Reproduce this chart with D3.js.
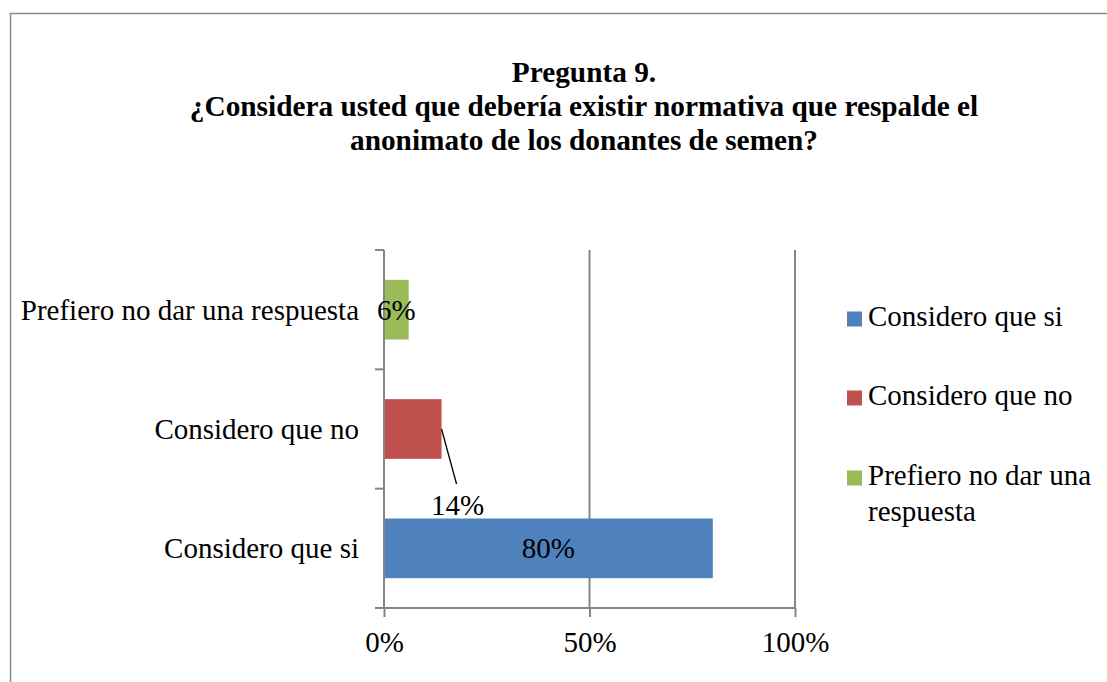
<!DOCTYPE html>
<html>
<head>
<meta charset="utf-8">
<script src="https://cdn.jsdelivr.net/npm/d3@7"></script>
<style>
  body { margin: 0; background: #fff; }
</style>
</head>
<body>
<div id="chart"></div>
<script>
// data
var categories = ["Prefiero no dar una respuesta", "Considero que no", "Considero que si"];
var values = [0.06, 0.14, 0.80];
var colors = ["#9BBB59", "#C0504D", "#4F81BD"];
var xTicks = [0, 0.5, 1];
var legendNames = ["Considero que si", "Considero que no", "Prefiero no dar una respuesta"];
var legendColors = ["#4F81BD", "#C0504D", "#9BBB59"];
var titleLines = ["Pregunta 9.", "¿Considera usted que debería existir normativa que respalde el", "anonimato de los donantes de semen?"];

var width = 1107, height = 682;
var grey = "#868686";
var fs = "29px";
var ff = "'Liberation Serif', 'Times New Roman', serif";

var svg = d3.select("#chart").append("svg")
    .attr("width", width)
    .attr("height", height);

// outer frame
svg.append("rect")
    .attr("x", 10.5).attr("y", 13.5)
    .attr("width", 1200).attr("height", 700)
    .attr("fill", "none")
    .attr("stroke", "#8c8c8c")
    .attr("stroke-width", 1.5);

// title
svg.append("g").selectAll("text")
    .data(titleLines)
    .enter().append("text")
    .attr("x", 584)
    .attr("y", function (d, i) { return 82 + i * 34; })
    .attr("text-anchor", "middle")
    .style("font-family", ff)
    .style("font-size", "29.3px")
    .style("font-weight", "bold")
    .text(function (d) { return d; });

// scales
var x = d3.scaleLinear().domain([0, 1]).range([384, 795]);
var y = d3.scaleBand().domain(categories).range([250, 608]).paddingInner(0.5).paddingOuter(0.25);

// gridlines
svg.append("g").selectAll("line")
    .data(xTicks.slice(1))
    .enter().append("line")
    .attr("x1", function (d) { return x(d); })
    .attr("x2", function (d) { return x(d); })
    .attr("y1", 250).attr("y2", 608)
    .attr("stroke", grey).attr("stroke-width", 2);

// bars
svg.append("g").selectAll("rect")
    .data(values)
    .enter().append("rect")
    .attr("x", x(0))
    .attr("y", function (d, i) { return y(categories[i]); })
    .attr("width", function (d) { return x(d) - x(0); })
    .attr("height", y.bandwidth())
    .attr("fill", function (d, i) { return colors[i]; });

// y axis with ticks at band edges
var yAxis = svg.append("g");
yAxis.append("line")
    .attr("x1", x(0)).attr("x2", x(0))
    .attr("y1", 250).attr("y2", 608)
    .attr("stroke", grey).attr("stroke-width", 2);
var edges = d3.range(categories.length + 1).map(function (i) { return 250 + i * y.step(); });
yAxis.selectAll(".tk")
    .data(edges)
    .enter().append("line")
    .attr("x1", x(0) - 9).attr("x2", x(0))
    .attr("y1", function (d) { return d; })
    .attr("y2", function (d) { return d; })
    .attr("stroke", grey).attr("stroke-width", 2);
yAxis.selectAll("text")
    .data(categories)
    .enter().append("text")
    .attr("x", 359)
    .attr("y", function (d) { return y(d) + y.bandwidth() / 2 + 10; })
    .attr("text-anchor", "end")
    .style("font-family", ff)
    .style("font-size", fs)
    .text(function (d) { return d; });

// x axis
var xAxis = svg.append("g")
    .attr("transform", "translate(0,608)")
    .call(d3.axisBottom(x).tickValues(xTicks).tickSize(9).tickSizeOuter(0)
        .tickFormat(d3.format(".0%")));
xAxis.select(".domain")
    .attr("d", "M" + (x(0) - 9) + ",0H" + x(1))
    .attr("stroke", grey).attr("stroke-width", 2);
xAxis.selectAll(".tick line").attr("stroke", grey).attr("stroke-width", 2);
xAxis.selectAll(".tick text")
    .attr("y", 44).attr("dy", null)
    .attr("fill", "#000")
    .style("font-size", fs)
    .style("font-family", ff);

// data labels
var fmt = d3.format(".0%");
var labels = svg.append("g");
values.forEach(function (v, i) {
    var cy = y(categories[i]) + y.bandwidth() / 2;
    if (i === 1) {
        // callout label below the small red bar
        labels.append("line")
            .attr("x1", x(v)).attr("y1", cy)
            .attr("x2", x(v) + 15).attr("y2", cy + 55)
            .attr("stroke", "#000").attr("stroke-width", 1.3);
        labels.append("text")
            .attr("x", x(v) + 16).attr("y", cy + 86)
            .attr("text-anchor", "middle")
            .style("font-family", ff)
            .style("font-size", fs)
            .text(fmt(v));
    } else {
        labels.append("text")
            .attr("x", (x(0) + x(v)) / 2).attr("y", cy + 10)
            .attr("text-anchor", "middle")
            .style("font-family", ff)
            .style("font-size", fs)
            .text(fmt(v));
    }
});

// legend
var legY = [319, 398, 478];
var leg = svg.append("g").selectAll("g")
    .data(legendNames)
    .enter().append("g")
    .attr("transform", function (d, i) { return "translate(847," + legY[i] + ")"; });
leg.append("rect")
    .attr("x", 0).attr("y", -7.5)
    .attr("width", 15).attr("height", 15)
    .attr("fill", function (d, i) { return legendColors[i]; });
leg.append("text")
    .attr("x", 21).attr("y", 7)
    .style("font-family", ff)
    .style("font-size", fs)
    .each(function (d) {
        var t = d3.select(this);
        var parts = d === "Prefiero no dar una respuesta" ? ["Prefiero no dar una", "respuesta"] : [d];
        parts.forEach(function (p, k) {
            t.append("tspan").attr("x", 21).attr("dy", k === 0 ? 0 : 36).text(p);
        });
    });
</script>
</body>
</html>
